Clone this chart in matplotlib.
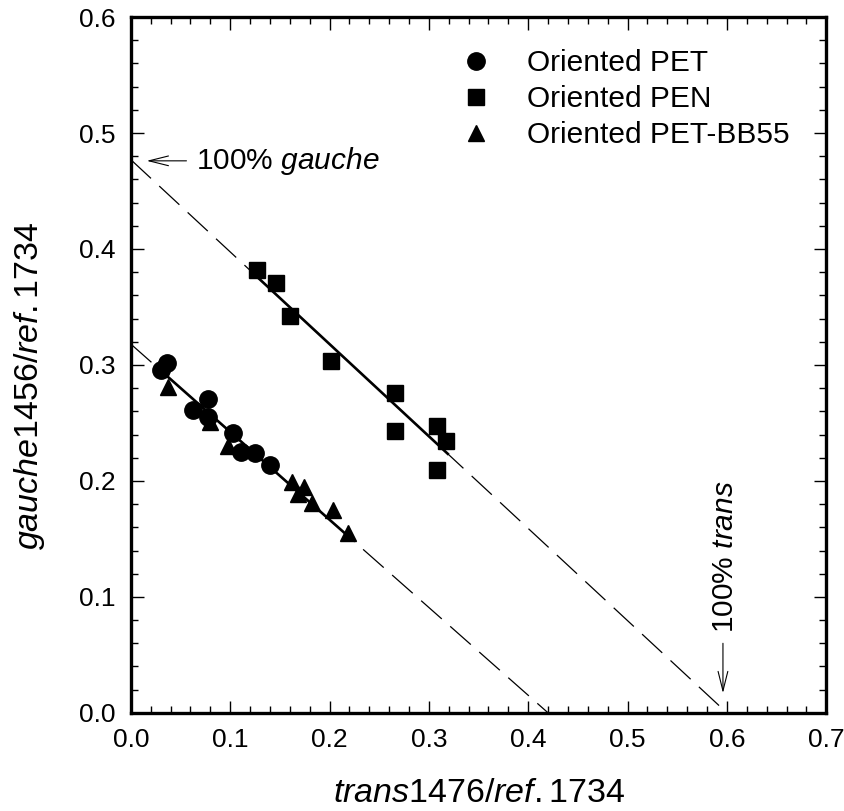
import numpy as np
import matplotlib
matplotlib.use("Agg")
import matplotlib.pyplot as plt
from matplotlib.ticker import MultipleLocator, FormatStrFormatter

plt.rcParams['font.family'] = ['Liberation Sans', 'DejaVu Sans']
plt.rcParams['mathtext.fontset'] = 'custom'
plt.rcParams['mathtext.rm'] = 'Liberation Sans'
plt.rcParams['mathtext.it'] = 'Liberation Sans:italic'

# data
pet_x = [0.030, 0.036, 0.063, 0.078, 0.078, 0.103, 0.111, 0.125, 0.140]
pet_y = [0.296, 0.302, 0.261, 0.271, 0.255, 0.241, 0.225, 0.224, 0.214]

pen_x = [0.127, 0.146, 0.160, 0.201, 0.266, 0.266, 0.308, 0.317, 0.308]
pen_y = [0.382, 0.371, 0.342, 0.303, 0.276, 0.243, 0.247, 0.234, 0.209]

bb_x = [0.030, 0.037, 0.080, 0.098, 0.162, 0.174, 0.168, 0.182, 0.204, 0.219]
bb_y = [0.300, 0.281, 0.251, 0.230, 0.199, 0.195, 0.189, 0.181, 0.175, 0.155]

# fitted lines: (y-intercept, x-intercept, solid from, solid to)
pet_fit = (0.318, 0.42, 0.03, 0.22)
pen_fit = (0.477, 0.60, 0.125, 0.32)

fig = plt.figure(figsize=(8.44, 8.11), dpi=100)
ax = fig.add_axes([0.155, 0.121, 0.824, 0.858])

for b, xi, s0, s1 in [pet_fit, pen_fit]:
    m = -b / xi
    ax.plot([0, xi], [b, 0], color='black', lw=0.9, dashes=(22, 9))
    xs = np.array([s0, s1])
    ax.plot(xs, b + m * xs, color='black', lw=1.9, solid_capstyle='butt')

ax.plot(pet_x, pet_y, 'o', color='black', ms=12.5, label='Oriented PET')
ax.plot(pen_x, pen_y, 's', color='black', ms=11.5, label='Oriented PEN')
ax.plot(bb_x, bb_y, '^', color='black', ms=12, label='Oriented PET-BB55')

arrow = dict(arrowstyle='->,head_length=1.4,head_width=0.35', lw=0.8,
             color='black', shrinkA=0, shrinkB=0)
ax.annotate('', xy=(0.016, 0.476), xytext=(0.056, 0.476), arrowprops=arrow)
ax.text(0.066, 0.476, '100% $\\mathit{gauche}$', fontsize=21.5, va='center', ha='left')
ax.annotate('', xy=(0.596, 0.017), xytext=(0.596, 0.060), arrowprops=arrow)
ax.text(0.598, 0.069, '100% $\\mathit{trans}$', fontsize=21.5, va='bottom',
        ha='center', rotation=90)

ax.set_xlim(0, 0.7)
ax.set_ylim(0, 0.6)
ax.xaxis.set_major_locator(MultipleLocator(0.1))
ax.xaxis.set_minor_locator(MultipleLocator(0.02))
ax.yaxis.set_major_locator(MultipleLocator(0.1))
ax.yaxis.set_minor_locator(MultipleLocator(0.02))
ax.xaxis.set_major_formatter(FormatStrFormatter('%.1f'))
ax.yaxis.set_major_formatter(FormatStrFormatter('%.1f'))
ax.tick_params(which='both', direction='in', top=True, right=True, labelsize=19, pad=11)
ax.tick_params(which='major', length=9, width=1.0)
ax.tick_params(which='minor', length=5, width=1.0)
for sp in ax.spines.values():
    sp.set_linewidth(2.4)

ax.set_xlabel('$\\mathit{trans}$1476/$\\mathit{ref.}$1734', fontsize=24.5)
ax.set_ylabel('$\\mathit{gauche}$1456/$\\mathit{ref.}$1734', fontsize=24.5)
ax.xaxis.set_label_coords(0.5, -0.093)
ax.yaxis.set_label_coords(-0.12, 0.47)

ax.legend(loc='upper left', frameon=False, fontsize=21.5, handletextpad=1.2,
          bbox_to_anchor=(0.475, 0.954), labelspacing=0.27, handlelength=1.0,
          borderpad=0, borderaxespad=0)

fig.savefig('out.png', dpi=100)
